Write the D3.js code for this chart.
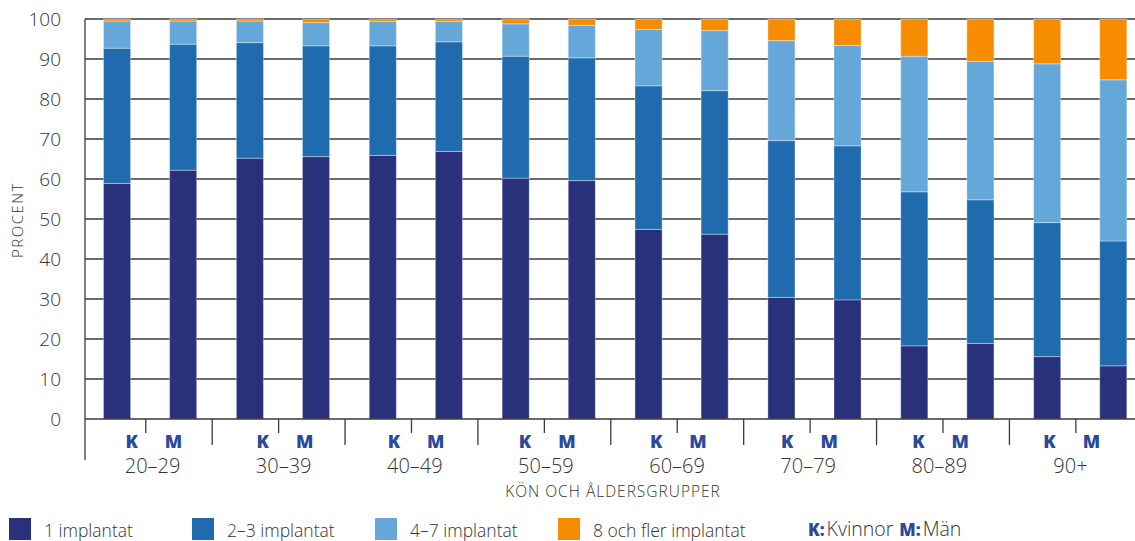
<!DOCTYPE html>
<html lang="sv">
<head>
<meta charset="utf-8">
<script src="https://cdn.jsdelivr.net/npm/d3@7"></script>
<style>
  html, body { margin: 0; padding: 0; background: #fff; }
  svg { display: block; font-family: "Open Sans", "DejaVu Sans", sans-serif; }
</style>
</head>
<body>
<svg id="chart" width="1135" height="541"></svg>
<script>
// Age groups and sexes (K = kvinnor, M = män)
const ageGroups = ["20–29", "30–39", "40–49", "50–59", "60–69", "70–79", "80–89", "90+"];
const sexes = ["K", "M"];
const seriesKeys = ["1 implantat", "2–3 implantat", "4–7 implantat", "8 och fler implantat"];
const seriesColors = ["#2a317b", "#1f6bae", "#66a7d9", "#f68d00"];
const yTicks = [0, 10, 20, 30, 40, 50, 60, 70, 80, 90, 100];

// Share of patients (%) per number of implants – women
const implant1K  = [58.9, 65.2, 65.9, 60.2, 47.4, 30.4, 18.3, 15.6];
const implant23K = [33.8, 28.9, 27.4, 30.5, 35.9, 39.2, 38.5, 33.5];
const implant47K = [6.8, 5.4, 6.1, 8.1, 14.1, 25.0, 33.9, 39.7];
const implant8K  = [0.5, 0.5, 0.6, 1.2, 2.6, 5.4, 9.3, 11.2];

// Share of patients (%) per number of implants – men
const implant1M  = [62.2, 65.6, 66.9, 59.6, 46.2, 29.8, 18.9, 13.3];
const implant23M = [31.5, 27.7, 27.4, 30.7, 35.9, 38.5, 35.9, 31.2];
const implant47M = [5.8, 5.8, 5.1, 8.1, 15.0, 25.1, 34.6, 40.3];
const implant8M  = [0.5, 0.9, 0.6, 1.6, 2.9, 6.6, 10.6, 15.2];

const bySex = {
  K: [implant1K, implant23K, implant47K, implant8K],
  M: [implant1M, implant23M, implant47M, implant8M]
};

const rows = [];
ageGroups.forEach((g, i) => {
  sexes.forEach(s => {
    const row = { group: g, sex: s };
    seriesKeys.forEach((k, j) => { row[k] = bySex[s][j][i]; });
    rows.push(row);
  });
});

const stacked = d3.stack().keys(seriesKeys)(rows);

const svg = d3.select("#chart");
const textColor = "#333333";
const kmColor = "#2b4a9c";

const axisX = 85;
const y = d3.scaleLinear().domain([0, 100]).range([419, 19]);

// Bar positions per age group
const x = d3.scaleBand().domain(ageGroups).range([79.3, 1142.3]).padding(0);
const xSex = d3.scaleBand().domain(sexes).range([0, x.bandwidth()])
  .paddingInner(0.59).paddingOuter(0.3).align(0.61);
// Label positions per age group
const xLabel = d3.scaleBand().domain(ageGroups).range([87, 1136]).padding(0);

// Horizontal grid lines
svg.append("g")
  .selectAll("line")
  .data(yTicks.filter(d => d > 0))
  .join("line")
  .attr("x1", axisX).attr("x2", 1135)
  .attr("y1", d => y(d)).attr("y2", d => y(d))
  .attr("stroke", "#3a3a3a").attr("stroke-width", 1.3);

// Stacked bars
svg.append("g")
  .selectAll("g")
  .data(stacked)
  .join("g")
  .attr("fill", (d, i) => seriesColors[i])
  .selectAll("rect")
  .data(d => d)
  .join("rect")
  .attr("x", d => x(d.data.group) + xSex(d.data.sex))
  .attr("width", xSex.bandwidth())
  .attr("y", d => y(d[1]))
  .attr("height", d => y(d[0]) - y(d[1]))
  .attr("stroke", "rgba(255,255,255,0.35)")
  .attr("stroke-width", 1);

// Y axis
const yAxis = svg.append("g").attr("transform", `translate(${axisX},0)`);
yAxis.append("line")
  .attr("x1", 0).attr("x2", 0).attr("y1", 19).attr("y2", 460)
  .attr("stroke", "#3a3a3a").attr("stroke-width", 1.3);
yAxis.selectAll("text")
  .data(yTicks)
  .join("text")
  .attr("x", -24)
  .attr("y", d => y(d) + 7)
  .attr("text-anchor", "end")
  .attr("font-size", 19)
  .attr("font-weight", 300)
  .attr("fill", textColor)
  .text(d => d);

svg.append("text")
  .attr("transform", "translate(23,220) rotate(-90)")
  .attr("text-anchor", "middle")
  .attr("font-size", 15)
  .attr("font-weight", 300)
  .attr("letter-spacing", 1.5)
  .attr("fill", textColor)
  .text("PROCENT");

// X axis baseline and ticks
const xAxis = svg.append("g");
xAxis.append("line")
  .attr("x1", axisX).attr("x2", 1135).attr("y1", 419).attr("y2", 419)
  .attr("stroke", "#3a3a3a").attr("stroke-width", 1.3);
xAxis.selectAll("line.mid")
  .data(ageGroups)
  .join("line")
  .attr("class", "mid")
  .attr("x1", d => x(d) + x.bandwidth() / 2).attr("x2", d => x(d) + x.bandwidth() / 2)
  .attr("y1", 419).attr("y2", 433)
  .attr("stroke", "#3a3a3a").attr("stroke-width", 1.3);
xAxis.selectAll("line.sep")
  .data(ageGroups.slice(1))
  .join("line")
  .attr("class", "sep")
  .attr("x1", d => x(d)).attr("x2", d => x(d))
  .attr("y1", 419).attr("y2", 445)
  .attr("stroke", "#3a3a3a").attr("stroke-width", 1.3);

// K / M labels under each pair
ageGroups.forEach(g => {
  const cx = xLabel(g) + xLabel.bandwidth() / 2;
  sexes.forEach((s, i) => {
    svg.append("text")
      .attr("x", cx + (i === 0 ? -21 : 21))
      .attr("y", 448)
      .attr("text-anchor", "middle")
      .attr("font-size", 18)
      .attr("font-weight", 800)
      .attr("fill", kmColor)
      .text(s);
  });
});

// Age group labels
svg.append("g")
  .selectAll("text")
  .data(ageGroups)
  .join("text")
  .attr("x", d => xLabel(d) + xLabel.bandwidth() / 2)
  .attr("y", 473)
  .attr("text-anchor", "middle")
  .attr("font-size", 20)
  .attr("font-weight", 300)
  .attr("fill", textColor)
  .text(d => d);

svg.append("text")
  .attr("x", 613)
  .attr("y", 497)
  .attr("text-anchor", "middle")
  .attr("font-size", 15.5)
  .attr("font-weight", 300)
  .attr("letter-spacing", 1)
  .attr("fill", textColor)
  .text("KÖN OCH ÅLDERSGRUPPER");

// Legend
const legendX = [9, 192, 375, 558];
const legend = svg.append("g")
  .selectAll("g")
  .data(seriesKeys)
  .join("g")
  .attr("transform", (d, i) => `translate(${legendX[i]},518)`);
legend.append("rect")
  .attr("width", 22).attr("height", 22)
  .attr("fill", (d, i) => seriesColors[i]);
legend.append("text")
  .attr("x", 35).attr("y", 19)
  .attr("font-size", 17.5)
  .attr("font-weight", 300)
  .attr("fill", textColor)
  .text(d => d);

const sexLegend = svg.append("text")
  .attr("x", 808).attr("y", 536)
  .attr("font-size", 19.5)
  .attr("font-weight", 300)
  .attr("fill", textColor);
sexLegend.append("tspan").attr("font-weight", 800).attr("font-size", 17).attr("fill", kmColor).text("K:");
sexLegend.append("tspan").attr("dx", 2).text("Kvinnor");
sexLegend.append("tspan").attr("dx", 6).attr("font-weight", 800).attr("font-size", 17).attr("fill", kmColor).text("M:");
sexLegend.append("tspan").attr("dx", 2).text("Män");
</script>
</body>
</html>
